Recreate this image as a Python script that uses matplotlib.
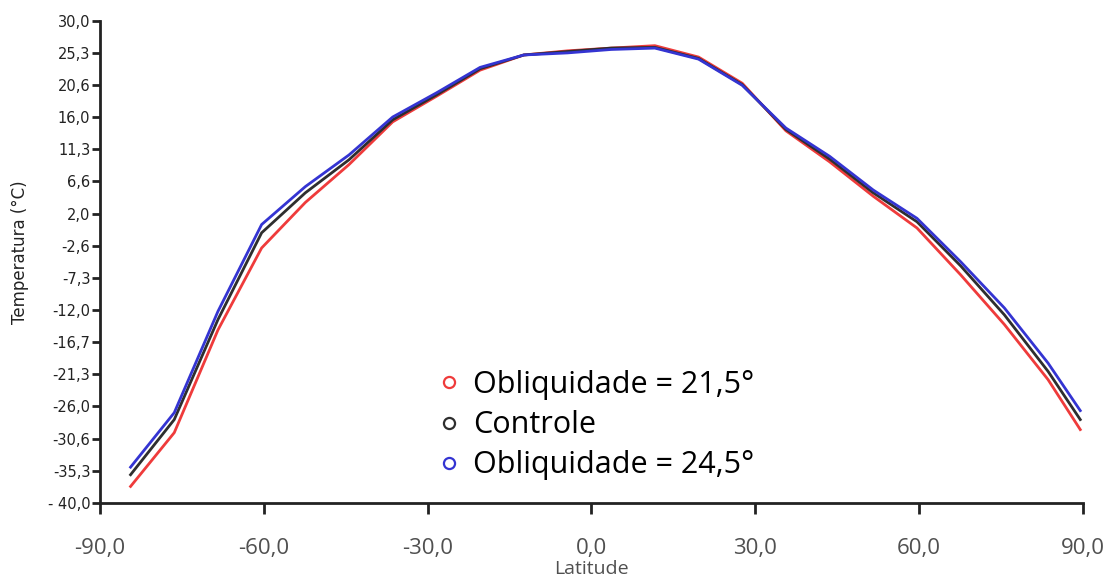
import numpy as np
import matplotlib.pyplot as plt
from matplotlib.lines import Line2D

# ---------------------------
latitude = [-84.4, -76.4, -68.4, -60.4, -52.4, -44.4, -36.4, -28.4, -20.4, -12.4, -4.4,
            3.6, 11.6, 19.6, 27.6, 35.6, 43.6, 51.6, 59.6, 67.6, 75.6, 83.6, 89.5]

obl215 = [-37.6, -29.8, -14.9, -3.0, 3.6, 9.1, 15.3, 19.0, 22.8, 25.0, 25.6,
          26.0, 26.35, 24.7, 20.9, 14.0, 9.5, 4.5, -0.1, -6.9, -14.1, -22.1, -29.35]
controle = [-35.9, -27.9, -13.4, -0.8, 5.0, 9.8, 15.6, 19.2, 23.0, 25.0, 25.5,
            26.0, 26.1, 24.5, 20.7, 14.2, 9.9, 5.0, 0.8, -5.6, -12.7, -20.9, -27.9]
obl245 = [-34.8, -26.9, -12.2, 0.4, 5.9, 10.5, 16.0, 19.5, 23.2, 25.0, 25.3,
          25.8, 26.0, 24.4, 20.6, 14.4, 10.3, 5.4, 1.3, -5.0, -11.7, -19.7, -26.6]

seriesNames = ['Obliquidade = 21,5°', 'Controle', 'Obliquidade = 24,5°']

xticks = [-90, -60, -30, 0, 30, 60, 90]
xlabels = ['-90,0', '-60,0', '-30,0', '0,0', '30,0', '60,0', '90,0']
ylabels = ['- 40,0', '-35,3', '-30,6', '-26,0', '-21,3', '-16,7', '-12,0', '-7,3',
           '-2,6', '2,0', '6,6', '11,3', '16,0', '20,6', '25,3', '30,0']

colors = ['#ef3b3b', '#2e2e2e', '#3434d2']

# ---------------------------
fig = plt.figure(figsize=(11.06, 5.78), dpi=100)
ax = fig.add_axes([0.0904, 0.1298, 0.8888, 0.8347])

ax.plot(latitude, obl215, '-', color=colors[0], linewidth=2)
ax.plot(latitude, controle, '-', color=colors[1], linewidth=2)
ax.plot(latitude, obl245, '-', color=colors[2], linewidth=2)

ax.set_xlim(-90, 90)
ax.set_ylim(-40, 30)
ax.set_xticks(xticks)
ax.set_xticklabels(xlabels, fontfamily='Open Sans', fontsize=16, color='#505050')
ax.set_yticks(np.linspace(-40, 30, len(ylabels)))
ax.set_yticklabels(ylabels, fontfamily='DejaVu Sans', fontsize=10.5, color='#222222')

for side in ['top', 'right']:
    ax.spines[side].set_visible(False)
for side in ['left', 'bottom']:
    ax.spines[side].set_linewidth(2)
    ax.spines[side].set_color('#222222')
ax.tick_params(axis='y', direction='out', length=6, width=2, color='#222222', pad=1)
ax.tick_params(axis='x', direction='out', length=8, width=2, color='#222222', pad=17)

ax.set_xlabel('Latitude', fontfamily='Open Sans', fontsize=14, color='#505050', labelpad=1)
ax.set_ylabel('Temperatura (°C)', fontfamily='DejaVu Sans', fontsize=12, color='#222222')
ax.yaxis.set_label_coords(-0.072, 0.52)

handles = [Line2D([], [], linestyle='none', marker='o', markersize=8, fillstyle='none',
                  markeredgewidth=1.6, markeredgecolor=c) for c in colors]
ax.legend(handles, seriesNames, loc='upper left', bbox_to_anchor=(0.33, 0.307), frameon=False,
          prop={'family': 'Open Sans', 'size': 22}, handlelength=0.6, handletextpad=0.5,
          labelspacing=0.33, borderpad=0)

fig.savefig('out.png', dpi=100)
plt.close(fig)
